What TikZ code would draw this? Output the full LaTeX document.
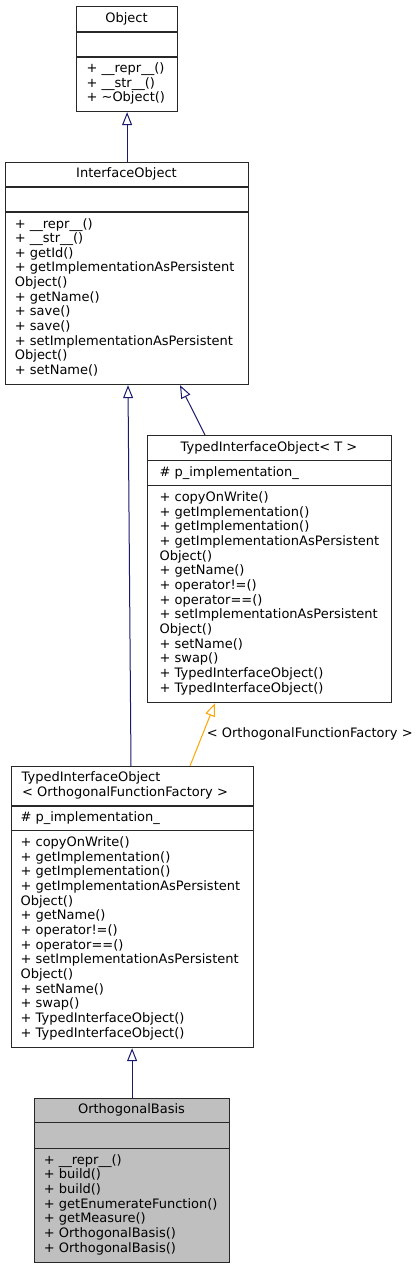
\documentclass[tikz,border=0pt]{standalone}
\usepackage{fontspec}
\setmainfont{DejaVu Sans}
\usetikzlibrary{arrows.meta}
\definecolor{edgeblue}{RGB}{25,25,112}
\definecolor{edgeorange}{RGB}{255,165,0}
\definecolor{boxline}{RGB}{40,40,40}
\definecolor{boxgray}{RGB}{191,191,191}
\tikzset{
 classbox/.style={draw=boxline, line width=1.2pt, inner sep=0pt, anchor=north west, rectangle},
 sepline/.style={draw=boxline, line width=1.2pt},
 txt/.style={inner sep=0pt, font=\fontsize{13}{14.64}\selectfont},
 inh/.style={draw=edgeblue, line width=1pt, -{Triangle[open, length=13pt, width=10pt]}},
 tmpl/.style={inh, draw=edgeorange},
}
\newcommand\mylines[4]{% name, x, y0, list
 \foreach \t [count=\i from 0] in {#4} \node[txt, anchor=base west] (#1-\i) at (#2, #3+\i*14.64) {\t};}
\begin{document}
\begin{tikzpicture}[x=1pt,y=-1pt]
\useasboundingbox[fill=white] (0,0) rectangle (419,1268);
% Object
\node[classbox, minimum width=101pt, minimum height=105pt] (obj) at (76,6) {};
\draw[sepline] (76,32) -- (177,32) (76,57) -- (177,57);
\node[txt, anchor=base] (objt) at (126.5,22.2) {Object};
\mylines{objm}{86.4}{72.6}{+ \_\_repr\_\_(), + \_\_str\_\_(), + \textasciitilde Object()}
% InterfaceObject
\node[classbox, minimum width=243pt, minimum height=222pt] (iface) at (5,162) {};
\draw[sepline] (5,187) -- (248,187) (5,212) -- (248,212);
\node[txt, anchor=base] (ifacet) at (126.5,177.7) {InterfaceObject};
\mylines{ifacem}{14.7}{228}{+ \_\_repr\_\_(), + \_\_str\_\_(), + getId(), + getImplementationAsPersistent, Object(), + getName(), + save(), + save(), + setImplementationAsPersistent, Object(), + setName()}
% TypedInterfaceObject< T >
\node[classbox, minimum width=244pt, minimum height=267pt] (tiot) at (147,435) {};
\draw[sepline] (147,460.7) -- (391,460.7) (147,485.7) -- (391,485.7);
\node[txt, anchor=base] (tiott) at (269,451.1) {TypedInterfaceObject< T >};
\node[txt, anchor=base west] (tiota) at (159.4,476.4) {\# p\_implementation\_};
\mylines{tiotm}{159.4}{501.7}{+ copyOnWrite(), + getImplementation(), + getImplementation(), + getImplementationAsPersistent, Object(), + getName(), + operator!=(), + operator==(), + setImplementationAsPersistent, Object(), + setName(), + swap(), + TypedInterfaceObject(), + TypedInterfaceObject()}
% TypedInterfaceObject< OrthogonalFunctionFactory >
\node[classbox, minimum width=242pt, minimum height=281pt] (tioff) at (11,766) {};
\draw[sepline] (11,806) -- (253,806) (11,830.7) -- (253,830.7);
\node[txt, anchor=base west] (tiofft1) at (21.5,781.9) {TypedInterfaceObject};
\node[txt, anchor=base west] (tiofft2) at (22,796.5) {< OrthogonalFunctionFactory >};
\node[txt, anchor=base west] (tioffa) at (20.4,821.6) {\# p\_implementation\_};
\mylines{tioffm}{20.4}{846.7}{+ copyOnWrite(), + getImplementation(), + getImplementation(), + getImplementationAsPersistent, Object(), + getName(), + operator!=(), + operator==(), + setImplementationAsPersistent, Object(), + setName(), + swap(), + TypedInterfaceObject(), + TypedInterfaceObject()}
% OrthogonalBasis
\node[classbox, fill=boxgray, minimum width=195pt, minimum height=164pt] (ob) at (34,1098) {};
\draw[sepline] (34,1122.7) -- (229,1122.7) (34,1148.3) -- (229,1148.3);
\node[txt, anchor=base] (obt) at (131.5,1113.7) {OrthogonalBasis};
\mylines{obm}{43.7}{1164.3}{+ \_\_repr\_\_(), + build(), + build(), + getEnumerateFunction(), + getMeasure(), + OrthogonalBasis(), + OrthogonalBasis()}
% edges
\draw[inh] (iface.north) -- (obj.south);
\draw[inh] ([xshift=120pt]tioff.north west) -- ([xshift=123pt]iface.south west);
\draw[inh] ([xshift=58pt]tiot.north west) -- ([xshift=175pt]iface.south west);
\draw[tmpl] ([xshift=179pt]tioff.north west) -- ([xshift=68pt]tiot.south west);
\node[txt, anchor=base west] (lbl) at (206.7,737.5) {< OrthogonalFunctionFactory >};
\draw[inh] (ob.north) -- (ob.north |- tioff.south);
\end{tikzpicture}
\end{document}
